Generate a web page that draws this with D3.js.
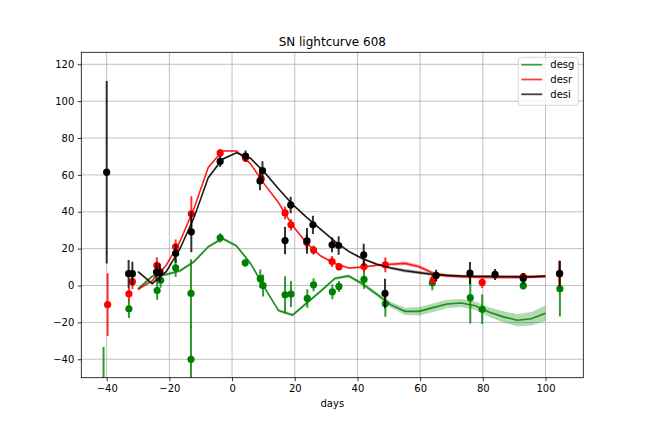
<!DOCTYPE html>
<html>
<head>
<meta charset="utf-8">
<script src="https://cdn.jsdelivr.net/npm/d3@7"></script>
<style>
  body { margin: 0; background: #fff; }
  text { font-family: "DejaVu Sans", sans-serif; fill: #000; }
</style>
</head>
<body>
<svg id="chart" width="648" height="432"></svg>
<script>
"use strict";

// model curves (days shared by all three bands)
const modelDays = [-30, -25.5, -21, -16.6, -12.1, -7.6, -3.1, 1.4, 5.9, 10.3, 14.8, 19.3, 23.8, 28.3, 32.8,
    37.2, 41.7, 46.2, 50.7, 55.2, 59.7, 64.1, 68.6, 73.1, 77.6, 82.1, 86.6, 91.0, 95.5, 100];
const modelG = [-2, 5, 6, 8, 13, 21, 25.5, 21.5, 12, -1, -13.5, -16, -9.5, -3, 3.8,
    5.2, 0.8, -4.8, -10.5, -14, -14, -12, -10, -9.5, -11, -14.5, -17, -18.8, -18, -15];
const modelGErr = [1, 0.8, 0.8, 0.8, 0.8, 0.8, 0.8, 0.8, 0.8, 0.8, 0.8, 0.8, 0.8, 0.8, 0.8,
    0.8, 1, 1.2, 1.5, 2, 2.3, 2.3, 2.3, 2.2, 2.3, 2.6, 3, 3.3, 3.7, 4.2];
const modelR = [-2, 2.5, 11, 24, 42, 64, 73, 73, 66, 55, 45, 32.5, 23, 16, 12,
    9.5, 10, 11, 11.5, 12, 10.2, 6.7, 5.3, 4.8, 4.5, 4.4, 4.4, 4.4, 4.5, 4.8];
const modelRErr = [0.5, 0.5, 0.5, 0.5, 0.5, 0.5, 0.5, 0.5, 0.5, 0.5, 0.5, 0.5, 0.5, 0.5, 0.5,
    0.5, 0.5, 0.6, 0.8, 1, 1, 1, 0.9, 0.8, 0.7, 0.7, 0.7, 0.7, 0.7, 0.7];
const modelI = [7.5, 1, 7.5, 20, 37, 58.5, 68.5, 72, 69, 61.5, 52.5, 44, 37, 30.5, 24,
    18.5, 14.5, 11.5, 9.5, 8, 7, 6, 5.5, 5.2, 5, 5, 4.9, 4.8, 4.8, 5.2];
const modelIErr = [0.5, 0.5, 0.5, 0.5, 0.5, 0.5, 0.5, 0.5, 0.5, 0.5, 0.5, 0.5, 0.5, 0.5, 0.5,
    0.5, 0.6, 0.7, 0.8, 0.9, 0.9, 0.8, 0.7, 0.6, 0.6, 0.6, 0.6, 0.6, 0.6, 0.6];

// observations
const obsGDays = [-41, -32.9, -23.9, -22.8, -18.0, -13.1, -13.1, -3.8, 4.2, 9.0, 9.9, 16.9, 18.8,
    24.0, 26.0, 32.0, 34.1, 42.1, 48.9, 63.9, 76.0, 79.8, 92.9, 104.6];
const obsGFlux = [-70, -12.6, -2.7, 2.8, 9.6, -4.3, -40, 25.9, 12.3, 3.7, 0, -5.0, -4.6,
    -7.0, 0.4, -3.4, -0.5, 3.3, -9.9, 1.5, -6.6, -12.9, -0.1, -1.8];
const obsGErr = [36.7, 5, 5, 4, 5, 18.5, 18, 2.5, 2, 5, 6, 10, 7,
    5, 3.5, 4, 3, 5, 7, 4, 14, 8, 2, 15];

const obsRDays = [-39.7, -32.9, -31.8, -24.0, -23.0, -18.0, -13.0, -3.8, 4.3, 9.3, 16.9, 18.8,
    23.8, 26.0, 31.9, 34.1, 42.1, 48.9, 64.2, 79.8, 92.9, 104.5];
const obsRFlux = [-10.4, -4.5, 2.1, 10.9, 7.5, 21.0, 38.9, 71.9, 69.2, 57.8, 39.4, 32.9,
    23.5, 19.2, 13.0, 10.2, 10.3, 11.2, 3.1, 1.7, 4.8, 6.5];
const obsRErr = [17, 4, 4, 4.5, 4, 4, 9.5, 2, 2, 2.5, 3.5, 3,
    4, 2.5, 3, 2, 3, 4, 2, 3, 2, 7];

const obsIDays = [-40, -33.0, -31.8, -24.1, -23.1, -18.0, -13.0, -3.8, 4.3, 8.9, 9.7, 16.9,
    18.7, 23.9, 25.8, 31.9, 34.0, 42.0, 48.8, 65.1, 75.9, 83.9, 92.9, 104.5];
const obsIFlux = [61.5, 6.4, 6.4, 7.3, 7.0, 17.4, 29.1, 67.3, 70.2, 56.7, 62.4, 24.4,
    43.7, 24.2, 32.9, 22.1, 21.7, 16.6, -4.3, 5.5, 6.7, 6.0, 3.8, 6.4];
const obsIErr = [49.5, 7.5, 6.5, 5, 5, 5, 11, 3, 3, 5, 5, 7.5,
    4.5, 7, 5, 4, 5, 6, 8, 3, 6, 3, 3, 7];

const xTicks = [-40, -20, 0, 20, 40, 60, 80, 100];
const yTicks = [-40, -20, 0, 20, 40, 60, 80, 100, 120];

const bands = [
    {name: "desg", color: "green", days: obsGDays, flux: obsGFlux, err: obsGErr, model: modelG, modelErr: modelGErr},
    {name: "desr", color: "red", days: obsRDays, flux: obsRFlux, err: obsRErr, model: modelR, modelErr: modelRErr},
    {name: "desi", color: "black", days: obsIDays, flux: obsIFlux, err: obsIErr, model: modelI, modelErr: modelIErr}
];

const svg = d3.select("#chart"),
    margin = {top: 52.3, right: 64.7, bottom: 54.3, left: 81.3},
    width = +svg.attr("width") - margin.left - margin.right,
    height = +svg.attr("height") - margin.top - margin.bottom,
    x = d3.scaleLinear().domain([-48.1, 112.06]).range([0, width]),
    y = d3.scaleLinear().domain([-50, 126.5]).range([height, 0]),
    g = svg.append("g").attr("transform", `translate(${margin.left},${margin.top})`);

const fmt = d => d < 0 ? "\u2212" + Math.abs(d) : String(d);

svg.append("defs").append("clipPath").attr("id", "clip")
    .append("rect").attr("width", width).attr("height", height);

// grid
g.append("g").selectAll("line").data(xTicks).enter().append("line")
    .attr("x1", d => x(d)).attr("x2", d => x(d))
    .attr("y1", 0).attr("y2", height)
    .attr("stroke", "#b0b0b0").attr("stroke-width", 0.8);
g.append("g").selectAll("line").data(yTicks).enter().append("line")
    .attr("x1", 0).attr("x2", width)
    .attr("y1", d => y(d)).attr("y2", d => y(d))
    .attr("stroke", "#b0b0b0").attr("stroke-width", 0.8);

const plot = g.append("g").attr("clip-path", "url(#clip)");

// uncertainty bands first (they sit underneath)
bands.forEach(b => {
    const area = d3.area()
        .x((d, i) => x(modelDays[i]))
        .y0((d, i) => y(b.model[i] - b.modelErr[i]))
        .y1((d, i) => y(b.model[i] + b.modelErr[i]));
    plot.append("path").datum(b.model)
        .attr("d", area)
        .attr("fill", b.color).attr("fill-opacity", 0.3);
});

bands.forEach(b => {
    const pts = b.days.map((d, i) => ({day: d, flux: b.flux[i], err: b.err[i]}));

    plot.append("g").selectAll("line").data(pts).enter().append("line")
        .attr("x1", d => x(d.day)).attr("x2", d => x(d.day))
        .attr("y1", d => y(d.flux - d.err)).attr("y2", d => y(d.flux + d.err))
        .attr("stroke", b.color).attr("stroke-opacity", 0.8).attr("stroke-width", 2);

    plot.append("g").selectAll("circle").data(pts).enter().append("circle")
        .attr("cx", d => x(d.day)).attr("cy", d => y(d.flux))
        .attr("r", 3.6).attr("fill", b.color);

    const line = d3.line().x((d, i) => x(modelDays[i])).y(d => y(d));
    plot.append("path").datum(b.model)
        .attr("d", line)
        .attr("fill", "none").attr("stroke", b.color)
        .attr("stroke-opacity", 0.85).attr("stroke-width", 1.6);
});

// axes
const xAxis = g.append("g")
    .attr("transform", `translate(0,${height})`)
    .call(d3.axisBottom(x).tickValues(xTicks).tickFormat(fmt).tickSize(3.5).tickPadding(3.5));
const yAxis = g.append("g")
    .call(d3.axisLeft(y).tickValues(yTicks).tickFormat(fmt).tickSize(3.5).tickPadding(3.5));
[xAxis, yAxis].forEach(a => {
    a.select(".domain").remove();
    a.selectAll("line").attr("stroke", "#000").attr("stroke-width", 0.8);
    a.selectAll("text").attr("font-size", 10).attr("font-family", "DejaVu Sans");
});

g.append("rect").attr("width", width).attr("height", height)
    .attr("fill", "none").attr("stroke", "#000").attr("stroke-width", 0.8);

svg.append("text").attr("x", margin.left + width / 2).attr("y", 46)
    .attr("text-anchor", "middle").attr("font-size", 12).text("SN lightcurve 608");
svg.append("text").attr("x", margin.left + width / 2).attr("y", 407)
    .attr("text-anchor", "middle").attr("font-size", 10).text("days");

// legend
const leg = svg.append("g").attr("transform", "translate(518.3,57.3)");
leg.append("rect").attr("width", 60).attr("height", 48).attr("rx", 2.5)
    .attr("fill", "#fff").attr("fill-opacity", 0.8)
    .attr("stroke", "#cccccc").attr("stroke-width", 0.8);
bands.forEach((b, i) => {
    const ly = 7.4 + i * 14.8;
    leg.append("line").attr("x1", 3).attr("x2", 24).attr("y1", ly).attr("y2", ly)
        .attr("stroke", b.color).attr("stroke-opacity", 0.75).attr("stroke-width", 1.8);
    leg.append("text").attr("x", 32).attr("y", ly + 3.6).attr("font-size", 10).text(b.name);
});
</script>
</body>
</html>
